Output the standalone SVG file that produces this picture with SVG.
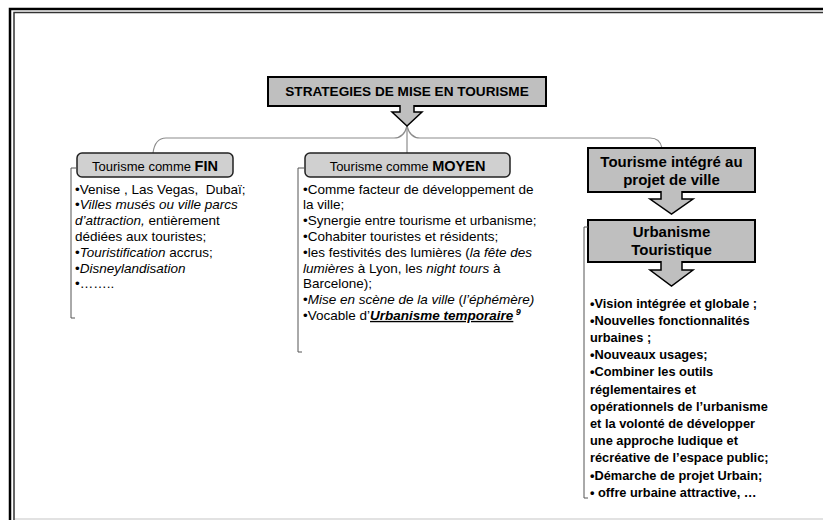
<svg xmlns="http://www.w3.org/2000/svg" width="823" height="520" viewBox="0 0 823 520">
<style>
text{font-family:"Liberation Sans",Arial,sans-serif;fill:#000}
.t{font-size:13.5px}
.r{font-size:12.8px;font-weight:bold}
.h{font-size:13px}
.hb{font-size:14.5px;font-weight:bold}
.b{font-size:15px;font-weight:bold}
.i{font-style:italic}
.box{fill:#bfbfbf;stroke:#000;stroke-width:2}
.rbox{fill:#d0d0d0;stroke:#222;stroke-width:1.5}
.arr{fill:#bfbfbf;stroke:#000;stroke-width:1.5}
.con{fill:none;stroke:#8c8c8c;stroke-width:1.2}
.brk{fill:none;stroke:#555;stroke-width:1}
</style>
<rect width="823" height="520" fill="#fff"/>
<g id="frame">
<path d="M823,9 H10 V520" fill="none" stroke="#000" stroke-width="2.5"/>
<path d="M823,12.5 H14 V520" fill="none" stroke="#333" stroke-width="1.5"/>
<line x1="15" y1="519" x2="823" y2="519" stroke="#d9d9d9" stroke-width="1.5"/>
</g>
<g id="connectors">
<path class="con" d="M407,126 Q404,138 394,138 H166 Q155,138 153,153"/>
<path class="con" d="M407,126 Q410,138 420,138 H650 Q660,138 662,148"/>
<path class="con" d="M407,126 V153"/>
</g>
<g id="strategies">
<rect class="box" x="268" y="77" width="278" height="29"/>
<text x="407" y="96" text-anchor="middle" font-size="13.6" font-weight="bold">STRATEGIES DE MISE EN TOURISME</text>
<path class="arr" d="M400,105 V112 H392 L407,126 L422,112 H414 V105"/>
</g>
<g id="fin">
<rect class="rbox" x="77" y="153" width="156" height="24" rx="5"/>
<text x="155" y="171" text-anchor="middle"><tspan class="h">Tourisme comme </tspan><tspan class="hb">FIN</tspan></text>
<path class="brk" d="M76,168 H71 V318 H75"/>
<text class="t" x="75" y="193.5">•Venise , Las Vegas, &#160;Dubaï;</text>
<text class="t" x="75" y="209.3">•<tspan class="i">Villes musés ou ville parcs</tspan></text>
<text class="t" x="75" y="225.1"><tspan class="i">d’attraction,</tspan> entièrement</text>
<text class="t" x="75" y="240.9">dédiées aux touristes;</text>
<text class="t" x="75" y="256.7">•<tspan class="i">Touristification</tspan> accrus;</text>
<text class="t" x="75" y="272.5">•<tspan class="i">Disneylandisation</tspan></text>
<text class="t" x="75" y="288.3">•……..</text>
</g>
<g id="moyen">
<rect class="rbox" x="305" y="153" width="205" height="24" rx="5"/>
<text x="407.5" y="171" text-anchor="middle"><tspan class="h">Tourisme comme </tspan><tspan class="hb">MOYEN</tspan></text>
<path class="brk" d="M305,168 H298 V352 H302"/>
<text class="t" x="303" y="193.5">•Comme facteur de développement de</text>
<text class="t" x="303" y="209.3">la ville;</text>
<text class="t" x="303" y="225.1">•Synergie entre tourisme et urbanisme;</text>
<text class="t" x="303" y="240.9">•Cohabiter touristes et résidents;</text>
<text class="t" x="303" y="256.7">•les festivités des lumières (<tspan class="i">la fête des</tspan></text>
<text class="t" x="303" y="272.5"><tspan class="i">lumières</tspan> à Lyon, les <tspan class="i">night tours</tspan> à</text>
<text class="t" x="303" y="288.3">Barcelone);</text>
<text class="t" x="303" y="304.1">•<tspan class="i">Mise en scène de la ville</tspan> (<tspan class="i">l’éphémère)</tspan></text>
<text class="t" x="303" y="319.9">•Vocable d’<tspan class="i" font-weight="bold" text-decoration="underline">Urbanisme temporaire</tspan><tspan class="i" font-weight="bold" font-size="9" dy="-5"> 9</tspan></text>
</g>
<g id="integre">
<rect class="box" x="588" y="148" width="167" height="44"/>
<text class="b" x="671.5" y="167" text-anchor="middle">Tourisme intégré au</text>
<text class="b" x="671.5" y="185" text-anchor="middle">projet de ville</text>
<path class="arr" d="M661,191 V199 H650 L671.5,214 L693,199 H682 V191"/>
</g>
<g id="urbanisme">
<rect class="box" x="588" y="220" width="167" height="42"/>
<text class="b" x="671.5" y="236.5" text-anchor="middle">Urbanisme</text>
<text class="b" x="671.5" y="255" text-anchor="middle">Touristique</text>
<path class="arr" d="M661,261 V270 H650 L671.5,286 L693,270 H682 V261"/>
<path class="brk" d="M588,227 H584 V498 H588"/>
<text class="r" x="590" y="307.5">•Vision intégrée et globale ;</text>
<text class="r" x="590" y="324.7">•Nouvelles fonctionnalités</text>
<text class="r" x="590" y="341.9">urbaines ;</text>
<text class="r" x="590" y="359.1">•Nouveaux usages;</text>
<text class="r" x="590" y="376.3">•Combiner les outils</text>
<text class="r" x="590" y="393.5">réglementaires et</text>
<text class="r" x="590" y="410.7">opérationnels de l’urbanisme</text>
<text class="r" x="590" y="427.9">et la volonté de développer</text>
<text class="r" x="590" y="445.1">une approche ludique et</text>
<text class="r" x="590" y="462.3">récréative de l’espace public;</text>
<text class="r" x="590" y="479.5">•Démarche de projet Urbain;</text>
<text class="r" x="590" y="496.7">• offre urbaine attractive, …</text>
</g>
</svg>
